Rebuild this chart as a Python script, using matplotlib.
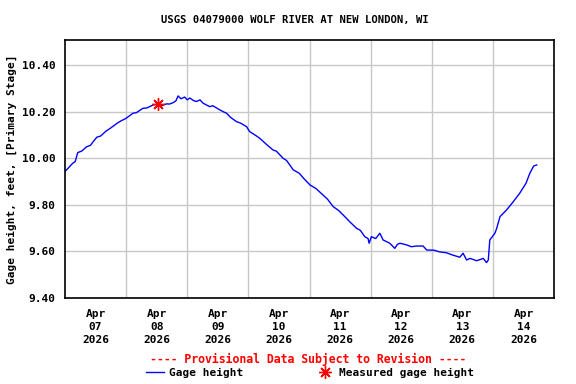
import matplotlib
matplotlib.use("Agg")
import matplotlib.pyplot as plt
from matplotlib.lines import Line2D

# hours since Apr 07 2026 00:00
hours = [
    0, 1.5, 3, 4, 5, 6.5, 8.5, 10, 11, 12.5,
    14, 16, 18, 20.5, 22, 24, 26.7, 28, 30.6, 32,
    34.6, 36.5, 38, 39.8, 41, 42.4, 43.5, 44.4, 45.5, 47,
    48, 49, 50.5, 51.6, 53, 54.2, 56.8, 58, 60.8, 62,
    63.4, 65, 67.3, 69, 71.3, 72.5, 75.2, 76.5, 79, 81.7,
    83, 85.6, 87, 89.6, 92, 94, 96.2, 98.5, 101.3, 103,
    105.3, 107.5, 110.5, 112, 114.5, 116, 117.7, 119, 119.4, 120.3,
    122, 123.6, 124.9, 127.5, 129.5, 130.5, 131.5, 134.1, 136, 138,
    140.6, 142, 145, 147, 149.8, 152, 155, 156.3, 157.7, 159,
    161.6, 163, 164.2, 165.5, 166.2, 166.8, 168.8, 169.5, 170.8, 173.4,
    176, 178.5, 181, 182.5, 184, 185.2,
]
gage_ft = [
    9.943, 9.960, 9.978, 9.985, 10.024, 10.030, 10.049, 10.055, 10.070, 10.090,
    10.095, 10.115, 10.130, 10.150, 10.160, 10.171, 10.193, 10.195, 10.214, 10.215,
    10.228, 10.233, 10.225, 10.233, 10.232, 10.238, 10.245, 10.267, 10.255, 10.262,
    10.250, 10.258, 10.247, 10.243, 10.250, 10.236, 10.221, 10.225, 10.207, 10.200,
    10.193, 10.175, 10.157, 10.150, 10.135, 10.114, 10.095, 10.085, 10.060, 10.035,
    10.030, 10.000, 9.990, 9.950, 9.935, 9.910, 9.885, 9.870, 9.842, 9.825,
    9.792, 9.775, 9.742, 9.725, 9.699, 9.690, 9.663, 9.655, 9.635, 9.663,
    9.655, 9.678, 9.649, 9.635, 9.613, 9.630, 9.635, 9.628, 9.620, 9.623,
    9.623, 9.606, 9.605, 9.598, 9.594, 9.585, 9.575, 9.592, 9.563, 9.570,
    9.560, 9.565, 9.570, 9.552, 9.563, 9.649, 9.678, 9.699, 9.749, 9.778,
    9.813, 9.849, 9.892, 9.935, 9.966, 9.971,
]

measured_hours = [36.5]
measured_ft = [10.233]

day_labels = ["Apr\n07\n2026", "Apr\n08\n2026", "Apr\n09\n2026", "Apr\n10\n2026",
              "Apr\n11\n2026", "Apr\n12\n2026", "Apr\n13\n2026", "Apr\n14\n2026"]
y_ticks = [9.40, 9.60, 9.80, 10.00, 10.20, 10.40]

FONT = "DejaVu Sans Mono"
plt.rcParams["font.family"] = FONT
plt.rcParams["font.weight"] = "bold"

fig = plt.figure(figsize=(5.76, 3.84), dpi=100)
ax = fig.add_axes([65 / 576, 1 - 298 / 384, 489 / 576, 258 / 384])

ax.plot(hours, gage_ft, color="#0000ff", linewidth=1.0)
star = (8, 2, 0)
ax.plot(measured_hours, measured_ft, linestyle="none", marker=star,
        markersize=9, color="#ff0000", markeredgewidth=1.0)

ax.set_xlim(0, 192)
ax.set_ylim(9.40, 10.507)
ax.set_xticks([24 * i for i in range(1, 8)])
ax.set_xticks([12 + 24 * i for i in range(8)], minor=True)
ax.set_xticklabels([])
ax.set_xticklabels(day_labels, minor=True, fontsize=8, fontweight="bold",
                   linespacing=1.35)
ax.set_yticks(y_ticks)
ax.set_yticklabels([f"{v:.2f}" for v in y_ticks], fontsize=8, fontweight="bold")
ax.tick_params(axis="both", which="both", length=0)
ax.tick_params(axis="x", which="minor", pad=8)
ax.tick_params(axis="y", pad=7)
ax.grid(True, which="major", color="#c8c8c8", linewidth=1.0)
ax.set_axisbelow(True)
for sp in ax.spines.values():
    sp.set_linewidth(1.2)
    sp.set_color("black")

ax.set_ylabel("Gage height, feet, [Primary Stage]", fontsize=8,
              fontweight="bold", labelpad=3)
fig.text(295 / 576, 1 - 20 / 384, "USGS 04079000 WOLF RIVER AT NEW LONDON, WI",
         ha="center", va="center", fontsize=7.6, fontweight="bold")
fig.text(308 / 576, 1 - 359 / 384, "---- Provisional Data Subject to Revision ----",
         ha="center", va="center", fontsize=8.3, fontweight="bold", color="#ff0000")

handles = [
    Line2D([], [], color="#0000ff", linewidth=1.0),
    Line2D([], [], linestyle="none", marker=star, markersize=9,
           color="#ff0000", markeredgewidth=1.0),
]
fig.legend(handles, ["Gage height", "Measured gage height"], ncol=2,
           loc="center", bbox_to_anchor=(310 / 576, 1 - 373 / 384),
           frameon=False, handlelength=1.6, handletextpad=0.4,
           columnspacing=6.6, borderpad=0, borderaxespad=0,
           prop={"family": FONT, "size": 8, "weight": "bold"})

fig.savefig("out.png", dpi=100)
